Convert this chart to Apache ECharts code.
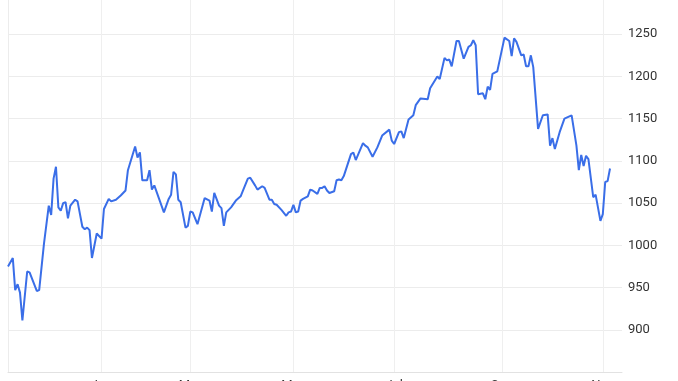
<!DOCTYPE html>
<html>
<head>
<meta charset="utf-8">
<script src="https://cdn.jsdelivr.net/npm/echarts@6/dist/echarts.min.js"></script>
<style>
html,body{margin:0;padding:0;background:#fff;}
#chart{width:678px;height:381px;}
</style>
</head>
<body>
<div id="chart"></div>
<script>
// trading-session index of each sampled point
var sessions = [0,2,3,4,5,6,8,9,12,13,15,17,18,19,20,21,22,23,24,25,26,28,29,31,32,33,34,35,37,39,40,42,43,45,47,49,50,53,54,55,56,58,59,60,61,65,67,68,69,70,71,72,74,75,76,77,79,82,84,85,86,88,89,90,91,93,95,97,98,100,101,103,104,106,107,109,110,111,112,114,116,117,118,119,120,121,122,123,125,126,127,129,130,131,132,133,134,136,137,138,139,140,143,144,145,148,149,150,152,154,156,159,160,161,163,164,165,167,169,170,172,175,176,179,180,182,183,184,185,187,188,190,192,193,194,195,196,198,199,200,201,202,204,207,209,210,211,212,214,215,216,217,218,219,221,223,225,226,227,228,230,232,235,237,238,239,240,241,242,244,245,247,248,249,250,251];
// closing values
var closes = [975,985,947,954,944,911,969,968,946,947,1002,1047,1036,1079,1093,1045,1041,1050,1051,1032,1047,1054,1052,1022,1019,1021,1018,985,1014,1008,1043,1055,1052,1054,1059,1065,1089,1117,1104,1110,1077,1077,1089,1066,1071,1039,1055,1060,1087,1084,1054,1051,1021,1023,1040,1039,1025,1056,1053,1040,1062,1047,1044,1023,1039,1045,1053,1058,1065,1079,1080,1071,1066,1070,1068,1054,1054,1049,1048,1042,1035,1039,1040,1048,1039,1040,1053,1055,1058,1066,1065,1061,1068,1068,1070,1065,1062,1064,1077,1078,1077,1082,1108,1110,1101,1121,1118,1116,1105,1116,1130,1137,1124,1120,1134,1135,1127,1149,1154,1166,1174,1173,1186,1200,1197,1222,1219,1220,1212,1242,1242,1221,1235,1237,1243,1237,1179,1180,1173,1188,1184,1203,1206,1246,1242,1224,1245,1241,1225,1226,1212,1212,1225,1211,1138,1154,1155,1118,1127,1114,1134,1150,1154,1118,1089,1107,1094,1106,1102,1057,1060,1029,1037,1075,1076,1091];
// x-axis tick positions and labels
var tickSessions = [39,76,119,161,206,248];
var tickLabels = ['Jan','Mar','May','Jul','Sep','Nov'];

var seriesData = sessions.map(function(s,i){ return [s, closes[i]]; });

var chart = echarts.init(document.getElementById('chart'), null, {renderer:'canvas'});
chart.setOption({
  animation:false,
  backgroundColor:'#ffffff',
  grid:{left:8,right:56,top:-8,bottom:9,containLabel:false,outerBoundsMode:'none'},
  xAxis:{
    type:'value',
    min:0,max:256,
    axisLine:{show:true,lineStyle:{color:'#e2e2e2',width:1}},
    axisTick:{show:false,customValues:tickSessions},
    axisLabel:{
      customValues:tickSessions,
      margin:7,
      color:'#333',
      fontSize:13,
      fontFamily:'Roboto, Arial, sans-serif',
      formatter:function(v){ var i=tickSessions.indexOf(v); return i>=0?tickLabels[i]:''; }
    },
    splitLine:{show:true,lineStyle:{color:'#efefef',width:1}}
  },
  yAxis:{
    type:'value',
    position:'right',
    min:850,max:1300,interval:50,
    axisLine:{show:true,lineStyle:{color:'#ececec',width:1}},
    axisTick:{show:false},
    axisLabel:{
      show:true,
      margin:6,
      color:'#333',
      fontSize:13,
      fontFamily:'Roboto, Arial, sans-serif',
      showMinLabel:false,
      showMaxLabel:false,
      formatter:function(v){ return String(v); }
    },
    splitLine:{show:true,lineStyle:{color:'#ececec',width:1}}
  },
  series:[{
    type:'line',
    data:seriesData,
    showSymbol:false,
    symbol:'none',
    lineStyle:{color:'#3a6ee8',width:2},
    clip:false
  }]
});
</script>
</body>
</html>
